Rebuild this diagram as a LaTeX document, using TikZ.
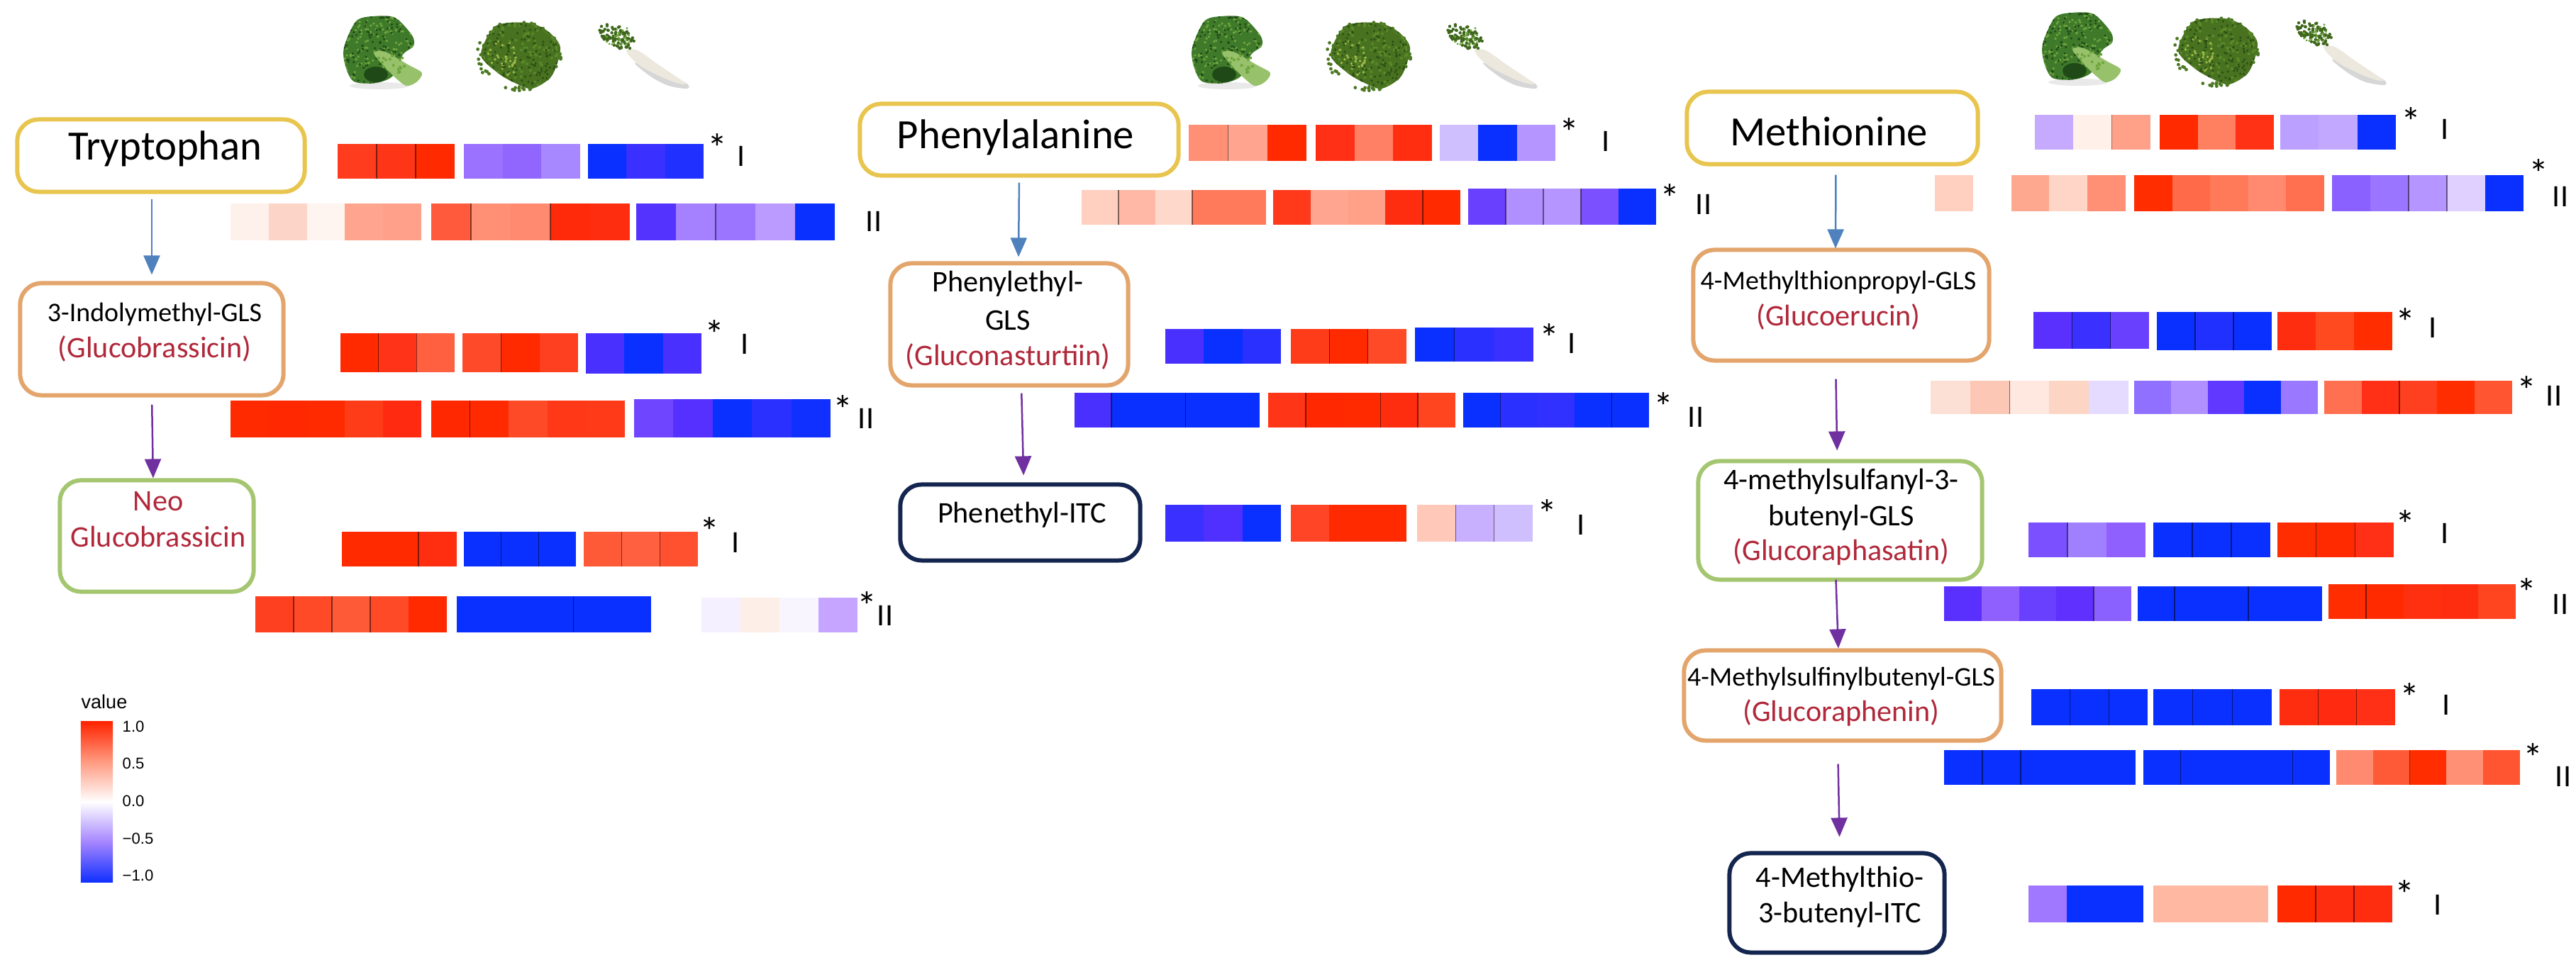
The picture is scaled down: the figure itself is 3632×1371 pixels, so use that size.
\documentclass[tikz,border=0pt]{standalone}
\usepackage{fontspec}
\setmainfont{Carlito}
\newfontfamily\legendfont{Liberation Sans}
\usetikzlibrary{arrows.meta}

\definecolor{boxyellow}{HTML}{E8C54E}
\definecolor{boxorange}{HTML}{E3A56C}
\definecolor{boxgreen}{HTML}{A5C670}
\definecolor{boxnavy}{HTML}{14264F}
\definecolor{glsred}{HTML}{B0283A}
\definecolor{flowblue}{HTML}{4F81BD}
\definecolor{flowpurple}{HTML}{7030A0}
\definecolor{heatred}{HTML}{FF2400}
\definecolor{heatpink}{HTML}{FF9A80}
\definecolor{heatlilac}{HTML}{A585FF}
\definecolor{heatblue}{HTML}{1030FF}
\definecolor{budmid}{HTML}{3F7A2A}
\definecolor{budlight}{HTML}{6FA53E}
\definecolor{buddark}{HTML}{1F4A18}
\definecolor{stemlight}{HTML}{B2D488}
\definecolor{leafmid}{HTML}{5A8A28}
\definecolor{leaflight}{HTML}{A2BA4C}
\definecolor{leafdark}{HTML}{2D4F14}
\definecolor{rootwhite}{HTML}{ECE8DE}

\pgfdeclareverticalshading{heatscale}{100bp}{color(0bp)=(heatblue); color(25bp)=(heatblue); color(37.5bp)=(heatlilac); color(50bp)=(white); color(62.5bp)=(heatpink); color(75bp)=(heatred); color(100bp)=(heatred)}

\tikzset{
	pathbox/.style={rectangle, rounded corners=0.3cm, line width=0.06cm, fill=white, inner sep=0pt, outer sep=0pt},
	aminobox/.style={pathbox, draw=boxyellow},
	glsbox/.style={pathbox, draw=boxorange},
	neobox/.style={pathbox, draw=boxgreen},
	itcbox/.style={pathbox, draw=boxnavy},
	bigtext/.style={font=\fontsize{16.7}{20}\selectfont, inner sep=0pt},
	smalltext/.style={font=\fontsize{10.8}{13}\selectfont, inner sep=0pt},
	nametext/.style={font=\fontsize{12}{14}\selectfont, inner sep=0pt},
	redtext/.style={nametext, text=glsred},
	starmark/.style={font=\fontsize{16}{18}\selectfont, inner sep=0pt, yshift=-3.4pt},
	levelmark/.style={font=\fontsize{12.5}{14}\selectfont, inner sep=0pt},
	blueflow/.style={draw=flowblue, line width=0.025cm, -{Triangle[width=0.23cm,length=0.27cm,fill=flowblue]}},
	purpleflow/.style={draw=flowpurple, line width=0.025cm, -{Triangle[width=0.23cm,length=0.27cm,fill=flowpurple]}},
	legendtick/.style={font=\legendfont\fontsize{6.3}{8}\selectfont, inner sep=0pt, anchor=west},
	pics/broccoli/.style={code={
		\def\headpath{plot[smooth cycle] coordinates {(0,44) (17,7) (41,0) (72,2) (96,27) (98,42) (83,54) (69,84) (45,94) (14,92) (2,70)}}
		\fill[black!25, opacity=0.35] (50,98) ellipse (42 and 5);
		\fill[budmid] \headpath;
		\pgfmathsetseed{11}
		\begin{scope}
			\clip \headpath;
			\foreach \k in {1,...,150}{
				\pgfmathsetmacro\px{rnd*100}
				\pgfmathsetmacro\py{rnd*95}
				\fill[budlight] (\px,\py) circle (1.9);
			}
			\foreach \k in {1,...,130}{
				\pgfmathsetmacro\px{rnd*100}
				\pgfmathsetmacro\py{rnd*95}
				\fill[buddark] (\px,\py) circle (1.8);
			}
		\end{scope}
		\fill[buddark] (45,82) ellipse (17 and 11);
		\fill[stemlight!60!budlight] plot[smooth cycle] coordinates {(42,52) (58,50) (90,68) (110,80) (102,93) (88,98) (74,88) (58,72)};
		\foreach \k in {1,...,16}{
			\pgfmathsetmacro\px{48+rnd*40}
			\pgfmathsetmacro\py{54+rnd*26}
			\fill[budlight] (\px,\py) circle (2);
		}
	}},
	pics/kale/.style={code={
		\def\leafpath{plot[smooth cycle] coordinates {(4,47) (25,7) (69,2) (97,13) (116,37) (104,77) (76,95) (52,87) (28,73)}}
		\fill[leafmid!60!leafdark] \leafpath;
		\pgfmathsetseed{23}
		\foreach \k in {1,...,55}{
			\pgfmathsetmacro\ang{rnd*360}
			\pgfmathsetmacro\px{58+(52+rnd*8)*cos(\ang)}
			\pgfmathsetmacro\py{48+(44+rnd*6)*sin(\ang)}
			\fill[leafmid!70!leafdark] (\px,\py) circle (2.4);
		}
		\begin{scope}
			\clip \leafpath;
			\foreach \k in {1,...,130}{
				\pgfmathsetmacro\px{rnd*118}
				\pgfmathsetmacro\py{rnd*97}
				\fill[leafmid] (\px,\py) circle (2);
			}
			\foreach \k in {1,...,40}{
				\pgfmathsetmacro\px{rnd*55}
				\pgfmathsetmacro\py{25+rnd*55}
				\fill[leaflight] (\px,\py) circle (1.9);
			}
			\foreach \k in {1,...,170}{
				\pgfmathsetmacro\px{rnd*118}
				\pgfmathsetmacro\py{rnd*97}
				\fill[leafdark] (\px,\py) circle (1.8);
			}
		\end{scope}
	}},
	pics/radish/.style={code={
		\fill[black!40, opacity=0.4] plot[smooth cycle] coordinates {(52,56) (76,76) (100,88) (126,92) (124,84) (80,62)};
		\fill[rootwhite] plot[smooth cycle] coordinates {(40,38) (56,38) (85,58) (124,85) (105,82) (70,66) (50,52)};
		\pgfmathsetseed{31}
		\foreach \k in {1,...,85}{
			\pgfmathsetmacro\ang{rnd*360}
			\pgfmathsetmacro\rad{sqrt(rnd)}
			\pgfmathsetmacro\px{27+\rad*25*cos(\ang)+\rad*5*sin(\ang)}
			\pgfmathsetmacro\py{18+\rad*18*sin(\ang)+\rad*5*cos(\ang)}
			\fill[leafdark!60!leafmid] (\px,\py) circle (2.2);
		}
		\foreach \k in {1,...,25}{
			\pgfmathsetmacro\px{12+rnd*32}
			\pgfmathsetmacro\py{6+rnd*24}
			\fill[budlight] (\px,\py) circle (1.7);
		}
	}}
}

% one block of a heat strip: left, right, top, bottom, cell colours, dark cell borders
\newcommand{\heatgroup}[6]{
	\foreach \cellhex[count=\cellno] in {#5}{\xdef\cellcount{\cellno}}
	\pgfmathsetmacro\cellw{(#2-#1)/\cellcount}
	\foreach \cellhex[count=\cellno] in {#5}{
		\definecolor{cellcol}{HTML}{\cellhex}
		\fill[cellcol] ({#1+(\cellno-1)*\cellw},#3) rectangle ({#1+\cellno*\cellw},#4);
	}
	\foreach \k in {#6}{
		\ifnum\k>0
			\draw[line width=0.015cm, black, opacity=0.5] ({#1+\k*\cellw},#3) -- ({#1+\k*\cellw},#4);
		\fi
	}
}

\begin{document}
\begin{tikzpicture}[x=0.01cm, y=-0.01cm]
	\useasboundingbox (0,0) rectangle (3632,1371);

	% vegetables
	\pic at (485,23) {broccoli};
	\pic at (674,30) {kale};
	\pic at (843,33) {radish};
	\pic at (1681,23) {broccoli};
	\pic at (1872,30) {kale};
	\pic at (2039,33) {radish};
	\pic at (2880,18) {broccoli};
	\pic at (3067,24) {kale};
	\pic at (3236,28) {radish};

	% tryptophan column
	\node[aminobox, minimum width=4.05cm, minimum height=1.02cm](trp) at (227,219.5){};
	\node[bigtext](trpText) at (233,210){Tryptophan};
	\node[glsbox, minimum width=3.71cm, minimum height=1.58cm](ind) at (214,478.5){};
	\node[smalltext](indText) at (218,443){3-Indolymethyl-GLS};
	\node[redtext](indName) at (218,492){(Glucobrassicin)};
	\node[neobox, minimum width=2.73cm, minimum height=1.57cm](neo) at (221,756){};
	\node[redtext](neoTop) at (223,707){Neo};
	\node[redtext](neoName) at (223,757){Glucobrassicin};
	\draw[blueflow, shorten <=0.1cm, shorten >=0.12cm](trp.south -| ind.north) -- (ind.north);
	\draw[purpleflow, shorten <=0.13cm, shorten >=0.03cm](ind.south) -- ([xshift=-0.05cm]neo.north);

	% phenylalanine column
	\node[aminobox, minimum width=4.49cm, minimum height=1.01cm](phe) at (1437,197){};
	\node[bigtext](pheText) at (1432,194){Phenylalanine};
	\node[glsbox, minimum width=3.35cm, minimum height=1.72cm](pet) at (1423,457.5){};
	\node[nametext](petTop) at (1421,400){Phenylethyl-};
	\node[nametext](petMid) at (1421,452){GLS};
	\node[redtext](petName) at (1421,503){(Gluconasturtiin)};
	\node[itcbox, minimum width=3.38cm, minimum height=1.07cm](pit) at (1438.5,737){};
	\node[nametext](pitText) at (1441,726){Phenethyl-ITC};
	\draw[blueflow, shorten <=0.1cm, shorten >=0.09cm](phe.south) -- ([xshift=0.13cm]pet.north);
	\draw[purpleflow, shorten <=0.11cm, shorten >=0.13cm]([xshift=0.17cm]pet.south) -- ([xshift=0.05cm]pit.north);

	% methionine column
	\node[aminobox, minimum width=4.10cm, minimum height=1.02cm](met) at (2583.5,180.5){};
	\node[bigtext](metText) at (2579,185){Methionine};
	\node[glsbox, minimum width=4.17cm, minimum height=1.56cm](mtp) at (2596,430.5){};
	\node[smalltext](mtpText) at (2592,398){4-Methylthionpropyl-GLS};
	\node[redtext](mtpName) at (2592,447){(Glucoerucin)};
	\node[neobox, minimum width=4.00cm, minimum height=1.67cm](mbu) at (2594.5,734){};
	\node[nametext](mbuTop) at (2596,679){4-methylsulfanyl-3-};
	\node[nametext](mbuMid) at (2596,730){butenyl-GLS};
	\node[redtext](mbuName) at (2596,778){(Glucoraphasatin)};
	\node[glsbox, minimum width=4.47cm, minimum height=1.27cm](msb) at (2598,981){};
	\node[smalltext](msbText) at (2596,957){4-Methylsulfinylbutenyl-GLS};
	\node[redtext](msbName) at (2596,1005){(Glucoraphenin)};
	\node[itcbox, minimum width=3.03cm, minimum height=1.40cm](mit) at (2590,1273.5){};
	\node[nametext](mitTop) at (2594,1240){4-Methylthio-};
	\node[nametext](mitMid) at (2594,1290){3-butenyl-ITC};
	\draw[blueflow, shorten <=0.15cm, shorten >=0.02cm]([xshift=0.05cm]met.south) -- ([xshift=-0.08cm]mtp.north);
	\draw[purpleflow, shorten <=0.26cm, shorten >=0.15cm]([xshift=-0.08cm]mtp.south) -- ([xshift=-0.04cm]mbu.north);
	\draw[purpleflow, shorten >=0.03cm]([xshift=-0.06cm]mbu.south) -- ([xshift=-0.06cm]msb.north);
	\draw[purpleflow, shorten <=0.33cm, shorten >=0.23cm]([xshift=-0.07cm]msb.south) -- ([xshift=0.04cm]mit.north);

	% heat strips, tryptophan
	\heatgroup{476}{641}{203}{252}{FF3C1E,FF3518,FF2A00}{1,2}
	\heatgroup{654}{818}{203}{252}{9A72FF,9066FF,A888FF}{0}
	\heatgroup{829}{992}{203}{252}{0A30FF,3A30FF,2030FF}{0}
	\node[starmark](s1) at (1012,197){*};
	\node[levelmark](l1) at (1045,220){I};
	\heatgroup{325}{594}{287}{339}{FEF0EA,FDD5C8,FFF5F0,FFA48E,FFA08A}{0}
	\heatgroup{608}{888}{287}{339}{FF5A3C,FF8F75,FF8A70,FF2A0A,FF2D10}{1,3}
	\heatgroup{897}{1177}{287}{339}{5533FF,A580FF,9B75FF,BB9BFF,0A30FF}{2}
	\node[levelmark](l2) at (1232,312){II};
	\heatgroup{480}{641}{470}{525}{FF2A00,FF3318,FF6040}{1,2}
	\heatgroup{652}{815}{470}{525}{FF4A2A,FF2A00,FF4020}{1}
	\heatgroup{826}{989}{470}{527}{4A30FF,0A30FF,4A30FF}{0}
	\node[starmark](s3) at (1008,460){*};
	\node[levelmark](l3) at (1050,485){I};
	\heatgroup{325}{594}{565}{617}{FF2A00,FF2800,FF2A00,FF3C18,FF2A10}{0}
	\heatgroup{608}{881}{565}{617}{FF2800,FF2A00,FF4A28,FF3818,FF3A18}{1}
	\heatgroup{894}{1171}{563}{617}{7045FF,5530FF,0A30FF,2A30FF,1030FF}{0}
	\node[starmark](s4) at (1188,566){*};
	\node[levelmark](l4) at (1221,590){II};
	\heatgroup{482}{644}{750}{799}{FF2A00,FF2A00,FF2E10}{2}
	\heatgroup{654}{812}{750}{799}{0A30FF,0A30FF,0A30FF}{1,2}
	\heatgroup{823}{984}{750}{799}{FF5A38,FF6040,FF5030}{1,2}
	\node[starmark](s5) at (1000,738){*};
	\node[levelmark](l5) at (1037,765){I};
	\heatgroup{360}{630}{841}{892}{FF4020,FF4A28,FF5A38,FF4A28,FF2A00}{1,2,3}
	\heatgroup{644}{918}{841}{892}{0A30FF,0A30FF,0A30FF,0A30FF,0A30FF}{3}
	\heatgroup{934}{1209}{843}{892}{FFFFFF,F5F0FF,FDEEE8,F8F5FF,C5A5FF}{0}
	\node[starmark](s6) at (1223,843){*};
	\node[levelmark](l6) at (1248,868){II};

	% heat strips, phenylalanine
	\heatgroup{1676}{1842}{176}{227}{FF8F75,FFA58F,FF2A00}{1}
	\heatgroup{1855}{2019}{176}{227}{FF3015,FF8065,FF2E10}{0}
	\heatgroup{2030}{2193}{176}{227}{D0BFFF,0A30FF,B595FF}{0}
	\node[starmark](s7) at (2212,175){*};
	\node[levelmark](l7) at (2264,199){I};
	\heatgroup{1525}{1785}{268}{317}{FFCFC0,FFB8A5,FFD8CC,FF7A5A,FF7A5A}{1,3}
	\heatgroup{1795}{2059}{268}{317}{FF3A1A,FFA590,FFA088,FF2D10,FF2A00}{4}
	\heatgroup{2070}{2335}{266}{317}{6A40FF,B090FF,B595FF,7A50FF,0A30FF}{1,2,3}
	\node[starmark](s8) at (2354,268){*};
	\node[levelmark](l8) at (2402,288){II};
	\heatgroup{1643}{1806}{464}{513}{4A30FF,0A30FF,2A30FF}{0}
	\heatgroup{1820}{1983}{464}{513}{FF3C1A,FF2A00,FF4A28}{1,2}
	\heatgroup{1995}{2162}{462}{510}{0A30FF,2A30FF,3A30FF}{1}
	\node[starmark](s9) at (2184,465){*};
	\node[levelmark](l9) at (2216,484){I};
	\heatgroup{1515}{1776}{554}{603}{4A30FF,0A30FF,0A30FF,0A30FF,0A30FF}{1,3}
	\heatgroup{1788}{2052}{554}{603}{FF3518,FF2800,FF2A00,FF2D10,FF4420}{1,3,4}
	\heatgroup{2063}{2325}{554}{603}{0A30FF,2A30FF,3030FF,0A30FF,0A30FF}{1,4}
	\node[starmark](s10) at (2345,562){*};
	\node[levelmark](l10) at (2391,588){II};
	\heatgroup{1643}{1806}{712}{764}{3A30FF,5030FF,0A30FF}{0}
	\heatgroup{1820}{1983}{712}{764}{FF4525,FF2A00,FF2A00}{0}
	\heatgroup{1998}{2161}{712}{764}{FFC8B8,C8B0FF,D0BFFF}{1,2}
	\node[starmark](s11) at (2181,713){*};
	\node[levelmark](l11) at (2229,740){I};

	% heat strips, methionine
	\heatgroup{2869}{3032}{162}{211}{C5AAFF,FFF0EA,FFA088}{2}
	\heatgroup{3045}{3206}{162}{211}{FF2A00,FF8060,FF3215}{0}
	\heatgroup{3215}{3378}{162}{211}{BBA0FF,C2A8FF,0A30FF}{0}
	\node[starmark](s12) at (3399,160){*};
	\node[levelmark](l12) at (3447,182){I};
	\heatgroup{2728}{2997}{247}{298}{FFD0C0,FFFFFF,FFA890,FFD5C8,FF9075}{0}
	\heatgroup{3009}{3277}{247}{298}{FF2D00,FF6A48,FF7A58,FF8A70,FF7050}{0}
	\heatgroup{3288}{3558}{247}{298}{8A60FF,9A75FF,B595FF,E0D0FF,0A30FF}{2,3}
	\node[starmark](s13) at (3579,233){*};
	\node[levelmark](l13) at (3610,277){II};
	\heatgroup{2867}{3030}{440}{492}{5A30FF,3A30FF,6A40FF}{1,2}
	\heatgroup{3041}{3203}{440}{494}{0A30FF,2030FF,0A30FF}{1,2}
	\heatgroup{3211}{3373}{440}{494}{FF2D10,FF4A20,FF2D00}{0}
	\node[starmark](s14) at (3391,443){*};
	\node[levelmark](l14) at (3430,462){I};
	\heatgroup{2722}{3001}{537}{584}{FDE0D5,FCC8B5,FEE8E0,FCD5C5,E5DAFF}{2}
	\heatgroup{3009}{3268}{537}{584}{9070FF,B090FF,6038FF,0A30FF,9A78FF}{0}
	\heatgroup{3277}{3542}{537}{584}{FF7050,FF3015,FF4020,FF2D00,FF5530}{2}
	\node[starmark](s15) at (3562,539){*};
	\node[levelmark](l15) at (3601,558){II};
	\heatgroup{2860}{3025}{737}{786}{7A50FF,A080FF,9060FF}{1}
	\heatgroup{3036}{3201}{737}{786}{0A30FF,0A30FF,0A30FF}{1,2}
	\heatgroup{3211}{3375}{737}{786}{FF2D00,FF2A00,FF3015}{1,2}
	\node[starmark](s16) at (3391,728){*};
	\node[levelmark](l16) at (3447,752){I};
	\heatgroup{2741}{3005}{827}{876}{5A30FF,9060FF,6A40FF,6030FF,8A60FF}{4}
	\heatgroup{3014}{3274}{827}{876}{0A30FF,0A30FF,0A30FF,0A30FF,0A30FF}{1,3}
	\heatgroup{3283}{3547}{824}{873}{FF2D00,FF2A00,FF3010,FF2D10,FF4420}{1}
	\node[starmark](s17) at (3562,824){*};
	\node[levelmark](l17) at (3610,852){II};
	\heatgroup{2864}{3028}{972}{1023}{0A30FF,0A30FF,0A30FF}{1,2}
	\heatgroup{3036}{3203}{972}{1023}{0A30FF,0A30FF,0A30FF}{1,2}
	\heatgroup{3214}{3377}{972}{1023}{FF2D10,FF2A10,FF3015}{1,2}
	\node[starmark](s18) at (3397,972){*};
	\node[levelmark](l18) at (3449,994){I};
	\heatgroup{2741}{3011}{1058}{1107}{0A30FF,0A30FF,0A30FF,0A30FF,0A30FF}{1,2}
	\heatgroup{3022}{3285}{1058}{1107}{0A30FF,0A30FF,0A30FF,0A30FF,0A30FF}{1,4}
	\heatgroup{3294}{3553}{1058}{1107}{FF8A70,FF5A38,FF2D00,FF8F75,FF5530}{2}
	\node[starmark](s19) at (3571,1057){*};
	\node[levelmark](l19) at (3614,1095){II};
	\heatgroup{2860}{3022}{1249}{1301}{A078FF,0A30FF,0A30FF}{0}
	\heatgroup{3036}{3198}{1249}{1301}{FFB8A2,FFB8A2,FFB8A2}{0}
	\heatgroup{3211}{3373}{1249}{1301}{FF2A00,FF2D10,FF2D10}{1,2}
	\node[starmark](s20) at (3390,1250){*};
	\node[levelmark](l20) at (3437,1276){I};

	% legend
	\node[font=\legendfont\fontsize{7.7}{9}\selectfont, inner sep=0pt](valTitle) at (147,990){value};
	\node[rectangle, minimum width=0.45cm, minimum height=2.26cm, inner sep=0pt, shading=heatscale](valBar) at (136.5,1131){};
	\node[legendtick](tickA) at (172,1025){1.0};
	\node[legendtick](tickB) at (172,1077){0.5};
	\node[legendtick](tickC) at (172,1130){0.0};
	\node[legendtick](tickD) at (172,1183){−0.5};
	\node[legendtick](tickE) at (172,1235){−1.0};
\end{tikzpicture}
\end{document}
